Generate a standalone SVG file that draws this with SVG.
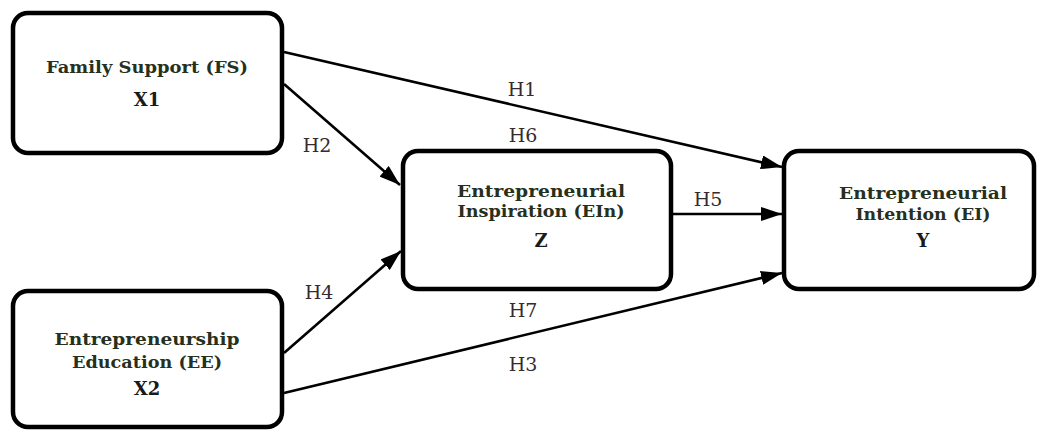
<svg xmlns="http://www.w3.org/2000/svg" width="1040" height="430" viewBox="0 0 1040 430">
<style>
.box{fill:#fff;stroke:#000;stroke-width:4.5}
.nt{font-family:"DejaVu Serif","Liberation Serif",serif;font-weight:bold;font-size:16px;fill:#26301c;text-anchor:middle}
.nv{font-family:"DejaVu Serif","Liberation Serif",serif;font-weight:bold;font-size:18px;fill:#1a1a1a;text-anchor:middle}
.el{font-family:"DejaVu Serif","Liberation Serif",serif;font-size:19px;fill:#352b30;text-anchor:middle}
.edge{stroke:#000;stroke-width:2.6;fill:none;marker-end:url(#ah)}
</style>
<defs>
<marker id="ah" markerUnits="userSpaceOnUse" markerWidth="22" markerHeight="14" refX="21" refY="7" orient="auto">
<path d="M0,0 L21,7 L0,14 z" fill="#000"/>
</marker>
</defs>
<rect width="1040" height="430" fill="#fff"/>
<g id="connectors">
<line class="edge" x1="284" y1="52" x2="782" y2="167"/>
<line class="edge" x1="284" y1="84" x2="400" y2="185"/>
<line class="edge" x1="284" y1="353" x2="401" y2="251"/>
<line class="edge" x1="284" y1="393" x2="782" y2="273"/>
<line class="edge" x1="672" y1="214" x2="782" y2="214"/>
<text class="el" x="522" y="96">H1</text>
<text class="el" x="523" y="142">H6</text>
<text class="el" x="317" y="152">H2</text>
<text class="el" x="708" y="206">H5</text>
<text class="el" x="319" y="299">H4</text>
<text class="el" x="523" y="317">H7</text>
<text class="el" x="523" y="371">H3</text>
</g>
<g id="node-x1">
<rect class="box" x="13" y="13" width="269" height="140" rx="15"/>
<text class="nt" x="147" y="73" textLength="202" lengthAdjust="spacingAndGlyphs">Family Support (FS)</text>
<text class="nv" x="147" y="106">X1</text>
</g>
<g id="node-x2">
<rect class="box" x="13" y="291" width="269" height="136" rx="15"/>
<text class="nt" x="147" y="345" textLength="185" lengthAdjust="spacingAndGlyphs">Entrepreneurship</text>
<text class="nt" x="147" y="368" textLength="150" lengthAdjust="spacingAndGlyphs">Education (EE)</text>
<text class="nv" x="147" y="395">X2</text>
</g>
<g id="node-z">
<rect class="box" x="403" y="151" width="268" height="138" rx="15"/>
<text class="nt" x="541" y="197" textLength="168" lengthAdjust="spacingAndGlyphs">Entrepreneurial</text>
<text class="nt" x="541" y="217" textLength="167" lengthAdjust="spacingAndGlyphs">Inspiration (EIn)</text>
<text class="nv" x="541" y="247">Z</text>
</g>
<g id="node-y">
<rect class="box" x="784" y="151" width="250" height="138" rx="15"/>
<text class="nt" x="923" y="199" textLength="168" lengthAdjust="spacingAndGlyphs">Entrepreneurial</text>
<text class="nt" x="923" y="220" textLength="135" lengthAdjust="spacingAndGlyphs">Intention (EI)</text>
<text class="nv" x="923" y="247">Y</text>
</g>
</svg>
